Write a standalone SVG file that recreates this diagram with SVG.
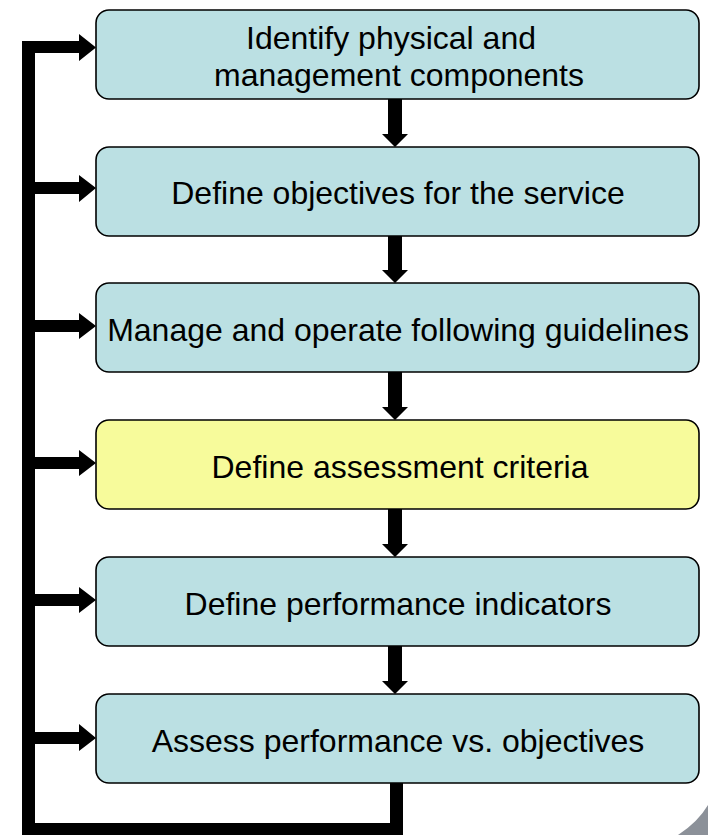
<svg xmlns="http://www.w3.org/2000/svg" width="708" height="835" viewBox="0 0 708 835">
<style>
.box{stroke:#000;stroke-width:1.6}
.blue{fill:#BBE0E3}
.yellow{fill:#F7FB9B}
.t{font-family:"Liberation Sans",Arial,sans-serif;font-size:32px;fill:#000;text-anchor:middle}
.c{fill:#000}
</style>
<rect width="708" height="835" fill="#fff"/>
<g id="connectors" class="c">
<rect x="22" y="41" width="13" height="794"/>
<rect x="22" y="823" width="381" height="12"/>
<rect x="390" y="783" width="13" height="52"/>
<path d="M22 41 H79 V34 L96 47.5 L79 61 V53 H22 Z"/>
<path d="M22 182 H79 V175 L96 188 L79 202 V194 H22 Z"/>
<path d="M22 320 H79 V313 L96 326 L79 339 V332 H22 Z"/>
<path d="M22 457 H79 V450 L96 463 L79 476 V469 H22 Z"/>
<path d="M22 594 H79 V587 L96 600 L79 613 V606 H22 Z"/>
<path d="M22 732 H79 V724 L96 738 L79 751 V744 H22 Z"/>
<path d="M388 99 H402 V134 H408 L395 147 L382 134 H388 Z"/>
<path d="M388 236 H402 V270 H408 L395 283 L382 270 H388 Z"/>
<path d="M388 372 H402 V407 H408 L395 420 L382 407 H388 Z"/>
<path d="M388 509 H402 V544 H408 L395 557 L382 544 H388 Z"/>
<path d="M388 646 H402 V681 H408 L395 694 L382 681 H388 Z"/>
</g>
<g id="n1">
<rect class="box blue" x="96" y="10" width="603" height="89" rx="13"/>
<text class="t" x="391" y="49">Identify physical and</text>
<text class="t" x="399" y="86">management components</text>
</g>
<g id="n2">
<rect class="box blue" x="96" y="147" width="603" height="89" rx="13"/>
<text class="t" x="398" y="204">Define objectives for the service</text>
</g>
<g id="n3">
<rect class="box blue" x="96" y="283" width="603" height="89" rx="13"/>
<text class="t" x="398" y="341">Manage and operate following guidelines</text>
</g>
<g id="n4">
<rect class="box yellow" x="96" y="420" width="603" height="89" rx="13"/>
<text class="t" x="400" y="478">Define assessment criteria</text>
</g>
<g id="n5">
<rect class="box blue" x="96" y="557" width="603" height="89" rx="13"/>
<text class="t" x="398" y="615">Define performance indicators</text>
</g>
<g id="n6">
<rect class="box blue" x="96" y="694" width="603" height="89" rx="13"/>
<text class="t" x="398" y="752">Assess performance vs. objectives</text>
</g>
<path d="M678 835 Q698 822 708 805 V835 Z" fill="#8C9199"/>
</svg>
